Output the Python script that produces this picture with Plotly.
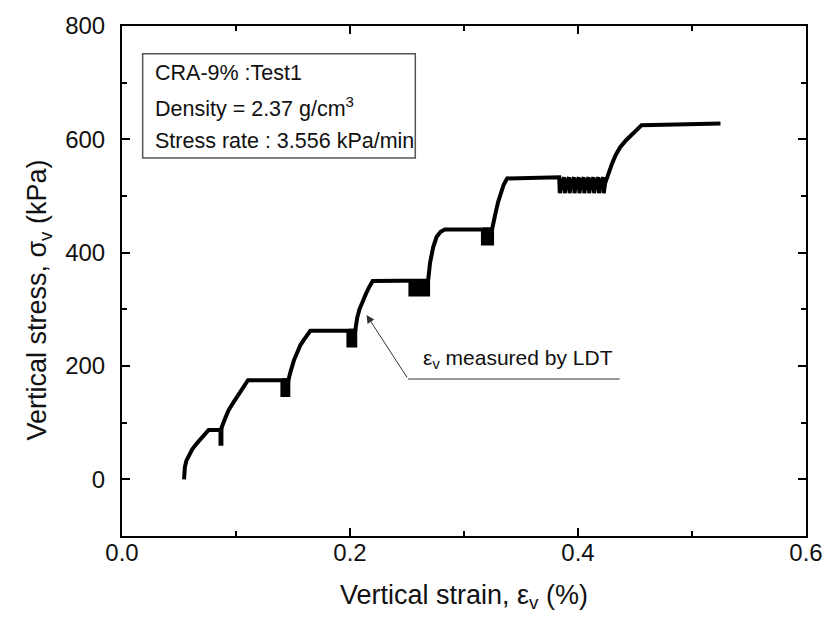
import plotly.graph_objects as go

# Main loading path: vertical strain (%) vs vertical stress (kPa)
strain = [0.0544, 0.0546, 0.0552, 0.0565, 0.0590, 0.0616, 0.0655, 0.0700, 0.0735, 0.0760,
          0.0868,
          0.0873, 0.0900, 0.0933, 0.0975, 0.1019, 0.1060, 0.1105,
          0.1459,
          0.1466, 0.1480, 0.1508, 0.1537, 0.1565, 0.1595, 0.1623, 0.1652,
          0.2046,
          0.2050, 0.2063, 0.2083, 0.2110, 0.2141, 0.2170, 0.2199,
          0.2685,
          0.2690, 0.2703, 0.2730, 0.2760, 0.2795, 0.2832,
          0.3246,
          0.3255, 0.3278, 0.3300, 0.3321, 0.3348, 0.3378,
          0.3835]
stress = [0, 12, 22, 33, 45, 53, 63, 74, 82, 87,
          87,
          91, 105, 121, 135, 148, 161, 175,
          175,
          182, 191, 210, 226, 237, 246, 255, 262,
          262,
          270, 285, 300, 315, 328, 340, 350,
          351,
          360, 383, 410, 428, 437, 441,
          441,
          452, 471, 490, 505, 520, 531,
          533]

# Final loading stage after the last cyclic block
strain_end = [0.4255, 0.4274, 0.4300, 0.4330, 0.4370, 0.4420, 0.4472, 0.4515, 0.4558, 0.5250]
stress_end = [533, 545, 558, 572, 586, 598, 608, 617, 625, 628]

# Dense unload/reload blocks at each stress hold: strain span and stress span
block_strain_lo = [0.0864, 0.1407, 0.1986, 0.2530, 0.3166]
block_strain_hi = [0.0872, 0.1459, 0.2046, 0.2685, 0.3246]
block_stress_lo = [63, 149, 236, 326, 416]
block_stress_hi = [87, 175, 262, 350, 441]

# Individual unload/reload cycles at the ~533 kPa hold
cycle_strain = [0.3835, 0.3878, 0.3921, 0.3964, 0.4007, 0.4050,
                0.4093, 0.4136, 0.4179, 0.4222]
cycle_stress_top = 533
cycle_stress_bottom = 505

legend_lines = ["CRA-9% :Test1",
                "Density = 2.37 g/cm<sup>3</sup>",
                "Stress rate : 3.556 kPa/min"]

FONT = "Liberation Sans, Arial, sans-serif"
BLACK = "#000000"
TEXT = "#111111"

fig = go.Figure()

# Cyclic path at the last hold
cx, cy = [], []
for i, a in enumerate(cycle_strain):
    nxt = cycle_strain[i + 1] if i + 1 < len(cycle_strain) else strain_end[0]
    step = nxt - a
    cx += [a, a + step * 0.12, a + step * 0.45, nxt]
    cy += [cycle_stress_top, cycle_stress_bottom,
           cycle_stress_top - (cycle_stress_top - cycle_stress_bottom) * 0.4,
           cycle_stress_top]

path_x = strain + cx + strain_end[1:]
path_y = stress + cy + stress_end[1:]

fig.add_trace(go.Scatter(x=path_x, y=path_y, mode="lines",
                         line=dict(color=BLACK, width=4),
                         hoverinfo="skip", showlegend=False))

for x0, x1, y0, y1 in zip(block_strain_lo, block_strain_hi,
                          block_stress_lo, block_stress_hi):
    fig.add_trace(go.Scatter(x=[x0, x1, x1, x0, x0], y=[y1, y1, y0, y0, y1],
                             mode="lines", fill="toself", fillcolor=BLACK,
                             line=dict(color=BLACK, width=4),
                             hoverinfo="skip", showlegend=False))

# Legend box with the test description
fig.add_shape(type="rect", xref="paper", yref="paper",
              x0=0.0302, x1=0.4288, y0=0.7412, y1=0.9455,
              line=dict(color="#555555", width=1.5), fillcolor="white")
for txt, yy in zip(legend_lines, [0.9086, 0.8405, 0.7743]):
    fig.add_annotation(text=txt, xref="paper", yref="paper", x=0.0446, y=yy,
                       xanchor="left", yanchor="middle", showarrow=False,
                       font=dict(family=FONT, size=21.5, color=TEXT))

# Pointer to the LDT-measured curve
tail_x, tail_y = 0.251, 177
fig.add_annotation(x=0.2145, y=290, ax=tail_x, ay=tail_y,
                   xref="x", yref="y", axref="x", ayref="y",
                   showarrow=True, arrowhead=2, arrowsize=1.6, arrowwidth=1,
                   arrowcolor="#333333", text="")
fig.add_shape(type="line", xref="x", yref="y", x0=tail_x, x1=0.4365,
              y0=tail_y, y1=tail_y, line=dict(color="#333333", width=1))
fig.add_annotation(text="ε<sub>v</sub> measured by LDT", xref="x", yref="y",
                   x=0.262, y=212, xanchor="left", yanchor="middle",
                   showarrow=False, font=dict(family=FONT, size=21, color=TEXT))

# Vertical axis title, placed slightly below the axis midpoint
fig.add_annotation(text="Vertical stress, σ<sub>v</sub> (kPa)", textangle=-90,
                   xref="paper", yref="paper", x=-0.121, y=0.462,
                   xanchor="center", yanchor="middle", showarrow=False,
                   font=dict(family=FONT, size=27, color=TEXT))

axis_common = dict(showline=True, linecolor=BLACK, linewidth=2, mirror="allticks",
                   ticks="inside", ticklen=8, tickwidth=1.5, tickcolor=BLACK,
                   showgrid=False, zeroline=False,
                   tickfont=dict(family=FONT, size=24, color=TEXT))

fig.update_xaxes(range=[0, 0.6], dtick=0.2, tickformat=".1f",
                 ticklabelstandoff=-6,
                 minor=dict(ticks="inside", dtick=0.1, ticklen=5,
                            tickwidth=1.5, tickcolor=BLACK, showgrid=False),
                 title=dict(text="Vertical strain, ε<sub>v</sub> (%)",
                            font=dict(family=FONT, size=27, color=TEXT),
                            standoff=20),
                 **axis_common)
fig.update_yaxes(range=[-100, 800], dtick=200,
                 ticklabelstandoff=10,
                 minor=dict(ticks="inside", dtick=100, ticklen=5,
                            tickwidth=1.5, tickcolor=BLACK, showgrid=False),
                 **axis_common)

fig.update_layout(width=835, height=619,
                  margin=dict(l=122, r=18, t=22, b=83),
                  paper_bgcolor="white", plot_bgcolor="white",
                  font=dict(family=FONT))

fig.write_html("out.html")
